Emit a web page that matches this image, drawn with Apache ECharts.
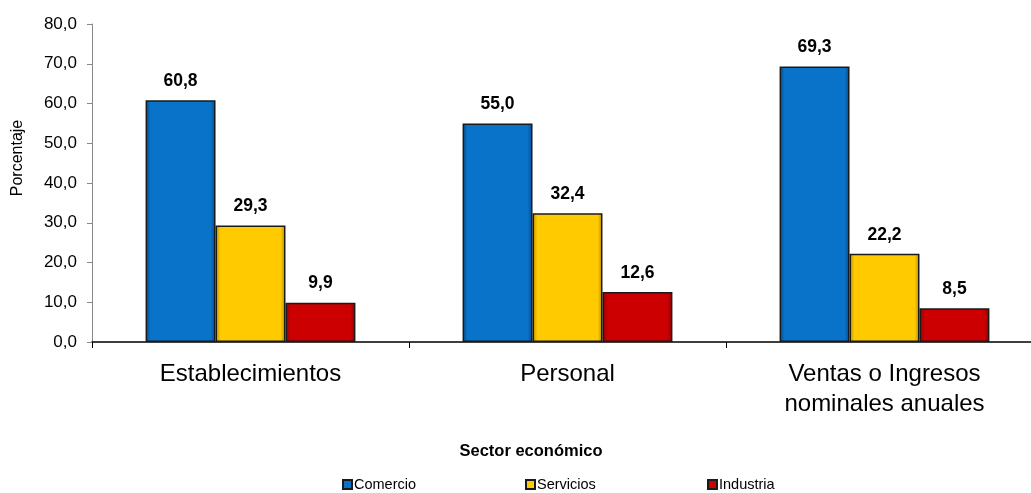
<!DOCTYPE html>
<html>
<head>
<meta charset="utf-8">
<script src="https://cdn.jsdelivr.net/npm/echarts@6/dist/echarts.min.js"></script>
<style>html,body{margin:0;padding:0;background:#fff}#c{width:1031px;height:493px}</style>
</head>
<body>
<div id="c"></div>
<script>
const categories = ['Establecimientos', 'Personal', 'Ventas o Ingresos\nnominales anuales'];
const seriesNames = ['Comercio', 'Servicios', 'Industria'];
const comercio = [60.8, 55.0, 69.3];
const servicios = [29.3, 32.4, 22.2];
const industria = [9.9, 12.6, 8.5];
const yTicks = [0, 10, 20, 30, 40, 50, 60, 70, 80];

const baseColors = ['#0873C8', '#FFCB00', '#CC0000'];
const darkColors = ['#034C8C', '#B88F00', '#8A0000'];

function fmt(v) { return Number(v).toFixed(1).replace('.', ','); }

function mkSeries(name, data, i) {
  return {
    name: name,
    type: 'bar',
    data: data,
    barGap: '0%',
    barCategoryGap: '33.8%',
    itemStyle: {
      color: {
        type: 'linear', x: 0, y: 0, x2: 1, y2: 0,
        colorStops: [
          { offset: 0, color: darkColors[i] },
          { offset: 0.07, color: baseColors[i] },
          { offset: 0.93, color: baseColors[i] },
          { offset: 1, color: darkColors[i] }
        ]
      },
      borderColor: '#1a1a1a',
      borderWidth: 1.5
    },
    label: {
      show: true,
      position: 'top',
      distance: 10,
      formatter: p => fmt(p.value),
      fontFamily: 'Liberation Sans, Arial',
      fontWeight: 'bold',
      fontSize: 17.5,
      color: '#000'
    }
  };
}

const chart = echarts.init(document.getElementById('c'), null, { renderer: 'canvas' });
const legendLefts = [342, 525, 707];
chart.setOption({
  animation: false,
  backgroundColor: '#fff',
  grid: { left: 92, top: 24, width: 951, height: 318, outerBoundsMode: 'none', containLabel: false },
  legend: seriesNames.map((n, i) => ({
    data: [n],
    left: legendLefts[i],
    top: 477,
    icon: 'rect',
    itemWidth: 9,
    itemHeight: 9,
    itemGap: 0,
    padding: 0,
    textStyle: { fontFamily: 'Liberation Sans, Arial', fontSize: 14.5, color: '#000', padding: [0,0,0,-3] }
  })),
  xAxis: {
    type: 'category',
    data: categories,
    axisLine: { lineStyle: { color: '#000', width: 1.5 } },
    axisTick: { show: true, length: 6, lineStyle: { color: '#000' } },
    axisLabel: {
      fontFamily: 'Liberation Sans, Arial',
      fontSize: 24,
      color: '#000',
      lineHeight: 30,
      margin: 17,
      interval: 0
    }
  },
  yAxis: {
    type: 'value',
    min: 0,
    max: 80,
    interval: 10,
    splitLine: { show: false },
    axisLine: { show: true, lineStyle: { color: '#888' } },
    axisTick: { show: true, length: 5, lineStyle: { color: '#888' } },
    axisLabel: {
      fontFamily: 'Liberation Sans, Arial',
      fontSize: 17,
      color: '#000',
      margin: 15,
      formatter: v => yTicks.includes(v) ? fmt(v) : ''
    }
  },
  graphic: [
    {
      type: 'text',
      x: 18, y: 158,
      rotation: Math.PI / 2,
      style: {
        text: 'Porcentaje',
        fontFamily: 'Liberation Sans, Arial',
        fontSize: 16,
        fill: '#000',
        align: 'center',
        verticalAlign: 'middle'
      }
    },
    {
      type: 'text',
      x: 531, y: 451,
      style: {
        text: 'Sector económico',
        fontFamily: 'Liberation Sans, Arial',
        fontSize: 16.5,
        fontWeight: 'bold',
        fill: '#000',
        align: 'center',
        verticalAlign: 'middle'
      }
    }
  ],
  series: [
    mkSeries(seriesNames[0], comercio, 0),
    mkSeries(seriesNames[1], servicios, 1),
    mkSeries(seriesNames[2], industria, 2)
  ]
});
</script>
</body>
</html>
